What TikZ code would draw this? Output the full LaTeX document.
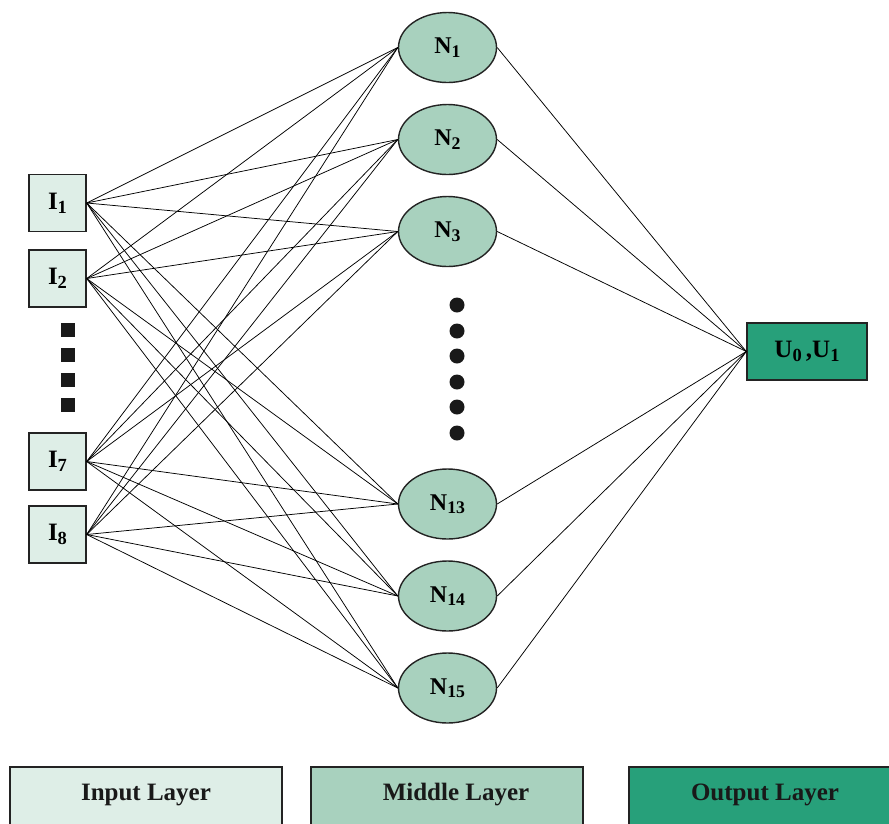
\documentclass[tikz,border=0pt]{standalone}
\usepackage{fontspec}
\setmainfont{Liberation Serif}
\usetikzlibrary{shapes.geometric}
\definecolor{inC}{RGB}{222,238,231}
\definecolor{midC}{RGB}{168,209,190}
\definecolor{outC}{RGB}{39,160,122}
\definecolor{edgeC}{RGB}{35,35,35}
\newcommand\sbx[1]{\raisebox{-0.32ex}{\scalebox{0.74}{#1}}}
\tikzset{
  inbox/.style={draw=edgeC, line width=1.4pt, fill=inC, minimum width=57pt, minimum height=57pt, inner sep=0pt, font=\fontsize{25}{25}\selectfont\bfseries},
  neuron/.style={ellipse, draw=edgeC, line width=1.4pt, fill=midC, minimum width=98pt, minimum height=70pt, inner sep=0pt, font=\fontsize{24}{24}\selectfont\bfseries},
  outbox/.style={draw=edgeC, line width=1.4pt, fill=outC, minimum width=120pt, minimum height=57pt, inner sep=0pt, font=\fontsize{25}{25}\selectfont\bfseries},
  wire/.style={line width=0.75pt, black},
  legbox/.style={draw=edgeC, line width=1.2pt},
  legtext/.style={font=\fontsize{25}{25}\selectfont\bfseries, text=black!90},
  sq/.style={fill=black!90, minimum size=14pt, inner sep=0pt},
  dot/.style={circle, fill=black!90, minimum size=15pt, inner sep=0pt}
}
\begin{document}
\begin{tikzpicture}[x=1pt,y=-1pt]
\useasboundingbox (0,0) rectangle (889,823);
% input nodes
\node[inbox] (i1) at (57.5,203) {I\sbx{1}};
\node[inbox] (i2) at (57.5,278.5) {I\sbx{2}};
\node[inbox] (i7) at (57.5,461.5) {I\sbx{7}};
\node[inbox] (i8) at (57.5,534.5) {I\sbx{8}};
% squares
\foreach \y/\n in {330/a,355/b,380/c,405/d} \node[sq] (sq\n) at (67.5,\y) {};
% neurons
\node[neuron] (n1) at (447.5,47.5) {N\sbx{1}};
\node[neuron] (n2) at (447.5,139.5) {N\sbx{2}};
\node[neuron] (n3) at (447.5,231.5) {N\sbx{3}};
\node[neuron] (n13) at (447.5,504) {N\sbx{13}};
\node[neuron] (n14) at (447.5,596) {N\sbx{14}};
\node[neuron] (n15) at (447.5,688) {N\sbx{15}};
% dots
\foreach \y/\n in {305/a,331/b,356/c,382/d,407/e,433/f} \node[dot] (dt\n) at (457,\y) {};
% output
\node[outbox] (out) at (807,351.5) {U\sbx{0}\,,U\sbx{1}};
% wires
\foreach \i in {i1,i2,i7,i8}
  \foreach \n in {n1,n2,n3,n13,n14,n15}
    \draw[wire] (\i.east) -- (\n.west);
\foreach \n in {n1,n2,n3,n13,n14,n15}
  \draw[wire] (\n.east) -- (out.west);
% legend
\node[legbox, fill=inC, minimum width=272pt, minimum height=62pt, inner sep=0pt] (lin) at (146,798) {};
\node[legbox, fill=midC, minimum width=272pt, minimum height=62pt, inner sep=0pt] (lmid) at (447,798) {};
\node[legbox, fill=outC, minimum width=272pt, minimum height=62pt, inner sep=0pt] (lout) at (765,798) {};
\node[legtext] (tin) at (146,795) {Input Layer};
\node[legtext] (tmid) at (456,795) {Middle Layer};
\node[legtext] (tout) at (765,795) {Output Layer};
\end{tikzpicture}
\end{document}
